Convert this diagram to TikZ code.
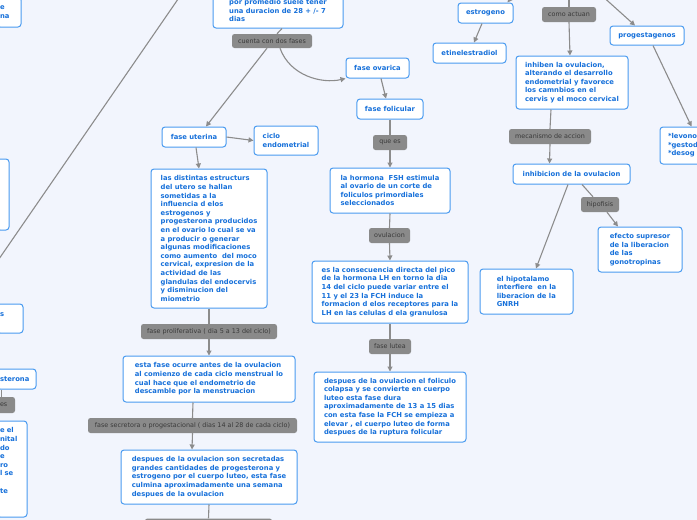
\documentclass[tikz,border=0pt]{standalone}
\usepackage{fontspec}
\usetikzlibrary{arrows.meta}
\newfontfamily\nodefont{DejaVu Sans}
\definecolor{bgc}{RGB}{242,245,253}
\definecolor{nodeblue}{RGB}{74,155,240}
\definecolor{textblue}{RGB}{22,112,218}
\definecolor{labgray}{RGB}{138,138,138}
\definecolor{labtext}{RGB}{58,58,58}
\definecolor{conncol}{RGB}{140,140,140}
\begin{document}
\begin{tikzpicture}[x=1pt,y=-1pt,
  box/.style={draw=nodeblue, fill=white, rounded corners=3pt, line width=1pt, text=textblue,
    font=\nodefont\bfseries\fontsize{6.8}{8.6}\selectfont, align=left, inner xsep=8pt, inner ysep=0pt},
  cbox/.style={box, align=center},
  frag/.style={box, inner xsep=3pt},
  lab/.style={fill=labgray, rounded corners=2.5pt, text=labtext,
    font=\nodefont\fontsize{6.4}{7.6}\selectfont, inner sep=0pt},
  conn/.style={draw=conncol, line width=1.1pt},
  arr/.style={conn, -{Triangle[length=5pt,width=5pt]}}
]
\useasboundingbox (0,0) rectangle (697,520);
\fill[bgc] (0,0) rectangle (697,520);
\clip (0,0) rectangle (697,520);

% long diagonal connector crossing the view
\coordinate (diagA) at (185,-11);
\coordinate (diagB) at (-10,272);
\draw[conn] (diagA) -- (diagB);

% ---------- left fragments ----------
\node[frag, minimum width=24pt, minimum height=30pt, text width=18pt] (tl) at (9,12) {e\\na};
\node[box, inner sep=0pt, minimum width=12pt, minimum height=71pt] (l2) at (3,194.5) {};
\node[frag, minimum width=26pt, minimum height=29pt, text width=20pt] (l3) at (10,318.5) {s\\\mbox{}};
\node[frag, minimum width=39pt, minimum height=20pt, text width=33pt] (l4) at (16.5,379) {sterona};
\node[lab, inner xsep=3pt, minimum width=18pt, minimum height=16pt, text width=12pt, align=left] (l5) at (6,405) {es};
\node[frag, minimum width=30pt, minimum height=96pt, text width=24pt] (l6) at (12,469)
  {e el\\nital\\do\\e\\ro\\l se\\\mbox{}\\te\\\mbox{}\\\mbox{}};

% ---------- centre column ----------
\node[box, minimum width=130pt, minimum height=35pt] (top) at (278,10.5)
  {por promedio suele tener\\una duracion de 28 + /- 7\\dias};
\node[lab, minimum width=80pt, minimum height=14pt] (cuenta) at (272,41) {cuenta con dos fases};
\node[cbox, minimum width=64pt, minimum height=20pt] (uterina) at (194,137) {fase uterina};
\node[box, minimum width=64pt, minimum height=29pt] (ciclo) at (286,140.5) {ciclo\\endometrial};
\node[box, minimum width=116pt, minimum height=139pt] (estruct) at (209,238.5)
  {las distintas estructurs\\del utero se hallan\\sometidas a la\\influencia d elos\\estrogenos y\\progesterona producidos\\en el ovario lo cual se va\\a producir o generar\\algunas modificaciones\\como aumento\ \ del moco\\cervical, expresion de la\\actividad de las\\glandulas del endocervis\\y disminucion del\\miometrio};
\node[lab, minimum width=136pt, minimum height=15pt] (prolif) at (209,331.5) {fase proliferativa ( dia 5 a 13 del ciclo)};
\node[box, minimum width=172pt, minimum height=46pt] (esta) at (209,379)
  {esta fase ocurre antes de la ovulacion\\al comienzo de cada ciclo menstrual lo\\cual hace que el endometrio de\\descamble por la menstruacion};
\node[lab, minimum width=209pt, minimum height=15pt] (secret) at (192.5,425.5) {fase secretora o progestacional ( dias 14 al 28 de cada ciclo)};
\node[box, minimum width=176pt, minimum height=54pt] (desp1) at (209,477)
  {despues de la ovulacion son secretadas\\grandes cantidades de progesterona y\\estrogeno por el cuerpo luteo, esta fase\\culmina aproximadamente una semana\\despues de la ovulacion};
\node[lab, minimum width=127pt, minimum height=15pt] (botlab) at (208.5,526) {};

% ---------- ovarian column ----------
\node[cbox, minimum width=63pt, minimum height=20pt] (ovarica) at (377.5,68) {fase ovarica};
\node[cbox, minimum width=66pt, minimum height=20pt] (folic) at (390,109) {fase folicular};
\node[lab, minimum width=34pt, minimum height=15pt] (quees) at (390,142.5) {que es};
\node[box, minimum width=120pt, minimum height=45pt] (hormona) at (390,190.5)
  {la hormona\ \ FSH estimula\\al ovario de un corte de\\foliculos primordiales\\seleccionados};
\node[lab, minimum width=41pt, minimum height=15pt] (ovul) at (389.5,235.5) {ovulacion};
\node[box, minimum width=156pt, minimum height=62pt] (consec) at (390,292)
  {es la consecuencia directa del pico\\de la hormona LH en torno la dia\\14 del ciclo puede variar entre el\\11 y el 23 la FCH induce la\\formacion d elos receptores para la\\LH en las celulas d ela granulosa};
\node[lab, minimum width=42pt, minimum height=15pt] (lutea) at (390,346.5) {fase lutea};
\node[box, minimum width=152pt, minimum height=70pt] (desp2) at (390,407)
  {despues de la ovulacion el foliculo\\colapsa y se convierte en cuerpo\\luteo esta fase dura\\aproximadamente de 13 a 15 dias\\con esta fase la FCH se empieza a\\elevar , el cuerpo luteo de forma\\despues de la ruptura folicular};

% ---------- right side ----------
\node[cbox, minimum width=55pt, minimum height=20pt] (estrog) at (485.5,13) {estrogeno};
\node[cbox, minimum width=73pt, minimum height=20pt] (etinel) at (469.5,53) {etinelestradiol};
\node[lab, minimum width=54pt, minimum height=15pt] (como) at (569,14.5) {como actuan};
\node[cbox, minimum width=74pt, minimum height=19pt] (progest) at (647,35.5) {progestagenos};
\node[box, minimum width=112pt, minimum height=53pt] (inhiben) at (572,82.5)
  {inhiben la ovulacion,\\alterando el desarrollo\\endometrial y favorece\\los camnbios en el\\cervis y el moco cervical};
\node[lab, minimum width=82pt, minimum height=15pt] (mecan) at (550,136.5) {mecanismo de accion};
\node[box, minimum width=120pt, minimum height=37pt, text width=104pt] (levono) at (720,145.5)
  {{*}levono\\{*}gestod\\{*}desog};
\node[cbox, minimum width=117pt, minimum height=20pt] (inhib) at (571.5,174) {inhibicion de la ovulacion};
\node[lab, minimum width=38pt, minimum height=15pt] (hipof) at (600,204.5) {hipofisis};
\node[box, minimum width=84pt, minimum height=45pt] (efecto) at (640,249.5)
  {efecto supresor\\de la liberacion\\de las\\gonotropinas};
\node[box, minimum width=93pt, minimum height=45pt] (hipot) at (526.5,291.5)
  {el hipotalamo\\interfiere\ \ en la\\liberacion de la\\GNRH};

% ---------- connectors ----------
\draw[conn] (l4.south -| 1.5,0) -- (l5.north -| 1.5,0);
\draw[conn] ([xshift=4pt]top.south) -- ([xshift=5pt]cuenta.north);
\draw[arr] ([xshift=-5pt]cuenta.south) -- ([xshift=12pt]uterina.north);
\draw[arr] ([xshift=8pt]cuenta.south) .. controls (290,76) and (322,84) .. (ovarica.south west);
\draw[arr] (uterina.east) -- (ciclo.west);
\draw[arr] ([xshift=2pt]uterina.south) -- ([xshift=-10pt]estruct.north);
\draw[conn] (estruct.south) -- (prolif.north);
\draw[arr] (prolif.south) -- (esta.north);
\draw[conn] ([xshift=-16pt]esta.south) -- (secret.north);
\draw[arr] (secret.south) -- ([xshift=-17pt]desp1.north);
\draw[conn] (desp1.south) -- (botlab.north);

\draw[arr] ([xshift=3.5pt]ovarica.south) -- ([xshift=-4pt]folic.north);
\draw[conn] (folic.south) -- (quees.north);
\draw[arr] (quees.south) -- (hormona.north);
\draw[conn] (hormona.south) -- (ovul.north);
\draw[arr] (ovul.south) -- (consec.north);
\draw[conn] (consec.south) -- (lutea.north);
\draw[arr] (lutea.south) -- (desp2.north);

\coordinate (estin) at (516,-9);
\coordinate (comoin) at (569,-6);
\coordinate (progin) at (600,-6);
\draw[arr] (estin) -- ([xshift=22pt]estrog.north);
\draw[arr] ([xshift=-3.5pt]estrog.south) -- ([xshift=4.5pt]etinel.north);
\draw[conn] (comoin) -- (como.north);
\draw[arr] (como.south) -- ([xshift=-2pt]inhiben.north);
\draw[arr] (progin) -- ([xshift=-12pt]progest.north);
\draw[arr] ([xshift=6pt]progest.south) -- ([xshift=32pt]levono.north west);
\draw[conn] ([xshift=-21pt]inhiben.south) -- (mecan.north);
\draw[arr] (mecan.south) -- ([xshift=-22pt]inhib.north);
\draw[arr] ([xshift=-3.5pt]inhib.south) -- ([xshift=9.5pt]hipot.north);
\draw[conn] ([xshift=10.5pt]inhib.south) -- ([xshift=-7pt]hipof.north);
\draw[arr] ([xshift=7pt]hipof.south) -- ([xshift=-22pt]efecto.north);
\end{tikzpicture}
\end{document}
